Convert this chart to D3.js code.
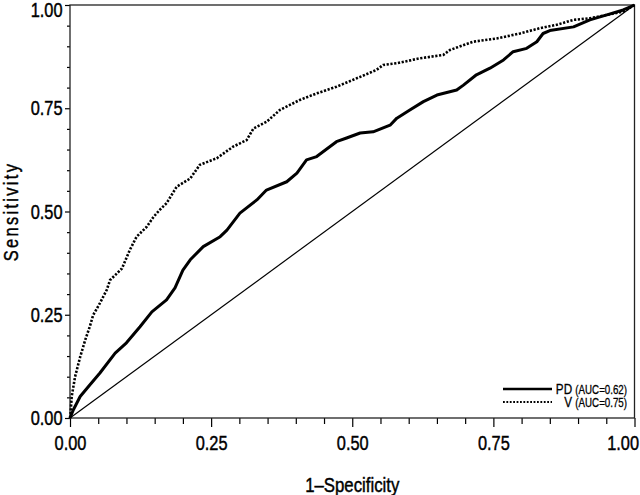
<!DOCTYPE html>
<html>
<head>
<meta charset="utf-8">
<script src="https://cdn.jsdelivr.net/npm/d3@7"></script>
<style>
  body { margin: 0; background: #fff; }
  svg { display: block; }
  text { font-family: "Liberation Sans", Arial, sans-serif; fill: #000; stroke: #000; stroke-width: 0.45px; }
</style>
</head>
<body>
<div id="chart"></div>
<script>
// ROC curve values
const pdFpr = [0, 0.006, 0.018, 0.035, 0.053, 0.080, 0.100, 0.124, 0.145, 0.171, 0.186, 0.200, 0.213, 0.236, 0.266, 0.278, 0.301, 0.331, 0.348, 0.384, 0.402, 0.419, 0.437, 0.472, 0.490, 0.514, 0.537, 0.567, 0.579, 0.602, 0.626, 0.650, 0.685, 0.697, 0.720, 0.744, 0.768, 0.785, 0.809, 0.827, 0.838, 0.850, 0.892, 0.921, 0.951, 0.980, 1];
const pdTpr = [0, 0.020, 0.052, 0.080, 0.109, 0.157, 0.182, 0.221, 0.257, 0.286, 0.315, 0.358, 0.383, 0.415, 0.439, 0.455, 0.496, 0.528, 0.552, 0.572, 0.593, 0.625, 0.633, 0.669, 0.678, 0.690, 0.693, 0.709, 0.726, 0.746, 0.766, 0.782, 0.794, 0.806, 0.831, 0.847, 0.867, 0.887, 0.895, 0.911, 0.931, 0.938, 0.947, 0.964, 0.976, 0.988, 1];

const vFpr = [0, 0.001, 0.003, 0.009, 0.018, 0.027, 0.035, 0.041, 0.053, 0.065, 0.071, 0.092, 0.106, 0.118, 0.136, 0.148, 0.159, 0.171, 0.189, 0.213, 0.230, 0.260, 0.289, 0.313, 0.325, 0.348, 0.372, 0.407, 0.437, 0.472, 0.514, 0.543, 0.555, 0.579, 0.620, 0.661, 0.673, 0.714, 0.756, 0.797, 0.833, 0.862, 0.892, 0.921, 0.951, 0.980, 1];
const vTpr = [0, 0.011, 0.052, 0.100, 0.148, 0.189, 0.221, 0.249, 0.278, 0.310, 0.334, 0.362, 0.407, 0.439, 0.463, 0.487, 0.504, 0.520, 0.560, 0.580, 0.613, 0.629, 0.657, 0.673, 0.701, 0.717, 0.746, 0.770, 0.786, 0.802, 0.826, 0.843, 0.855, 0.859, 0.871, 0.879, 0.891, 0.911, 0.919, 0.931, 0.944, 0.952, 0.964, 0.968, 0.976, 0.984, 1];

const refLine = [0, 1];
const majorTicks = [0, 0.25, 0.5, 0.75, 1];
const minorTicks = [0.05, 0.1, 0.15, 0.2, 0.3, 0.35, 0.4, 0.45, 0.55, 0.6, 0.65, 0.7, 0.8, 0.85, 0.9, 0.95];

const legendNames = ["PD", "V"];
const legendAuc = ["(AUC=0.62)", "(AUC=0.75)"];

const W = 640, H = 495;
const margin = { top: 5, right: 5.5, bottom: 77, left: 70 };
const width = W - margin.left - margin.right;
const height = H - margin.top - margin.bottom;
const SX = 0.78; // horizontal squeeze to mimic the narrow font

const svg = d3.select("#chart").append("svg")
    .attr("width", W)
    .attr("height", H);

const g = svg.append("g")
    .attr("transform", `translate(${margin.left},${margin.top})`);

const x = d3.scaleLinear().domain([0, 1]).range([0, width]);
const y = d3.scaleLinear().domain([0, 1]).range([height, 0]);

// Axes (major with labels, minor without)
const fmt = d3.format(".2f");
const xAxis = g.append("g")
    .attr("transform", `translate(0,${height})`)
    .call(d3.axisBottom(x).tickValues(majorTicks).tickFormat(fmt).tickSize(9).tickPadding(8));
g.append("g")
    .attr("transform", `translate(0,${height})`)
    .call(d3.axisBottom(x).tickValues(minorTicks).tickFormat("").tickSize(6));

const yAxis = g.append("g")
    .call(d3.axisLeft(y).tickValues(majorTicks).tickFormat(fmt).tickSize(5).tickPadding(4));
g.append("g")
    .call(d3.axisLeft(y).tickValues(minorTicks).tickFormat("").tickSize(3));

g.selectAll(".domain").remove();
g.selectAll(".tick line").attr("stroke", "#000").attr("stroke-width", 1.2);

xAxis.selectAll("text")
    .style("font-size", "21px")
    .attr("dy", "0.72em")
    .attr("transform", `scale(${SX},1)`);
// keep the last label inside the window
xAxis.selectAll("text").filter(d => d === 1)
    .attr("text-anchor", "end")
    .attr("x", 4 / SX);

yAxis.selectAll("text")
    .style("font-size", "21px")
    .attr("x", -7.5 / SX)
    .attr("transform", `scale(${SX},1)`);
yAxis.selectAll("text").filter(d => d === 1)
    .attr("dy", "0.55em");

// Frame
g.append("rect")
    .attr("x", 0).attr("y", 0)
    .attr("width", width).attr("height", height)
    .attr("fill", "none")
    .attr("stroke", "#222")
    .attr("stroke-width", 1.3);

// Reference diagonal
g.append("line")
    .attr("x1", x(refLine[0])).attr("y1", y(refLine[0]))
    .attr("x2", x(refLine[1])).attr("y2", y(refLine[1]))
    .attr("stroke", "#000")
    .attr("stroke-width", 1.2);

// Curves
const line = d3.line()
    .x(d => x(d[0]))
    .y(d => y(d[1]));

g.append("path")
    .datum(d3.zip(vFpr, vTpr))
    .attr("fill", "none")
    .attr("stroke", "#000")
    .attr("stroke-width", 2.6)
    .attr("stroke-dasharray", "2.2,1.6")
    .attr("d", line);

g.append("path")
    .datum(d3.zip(pdFpr, pdTpr))
    .attr("fill", "none")
    .attr("stroke", "#000")
    .attr("stroke-width", 3)
    .attr("stroke-linejoin", "round")
    .attr("d", line);

// Axis titles
svg.append("text")
    .attr("transform", `translate(${margin.left + width / 2},492) scale(${SX + 0.02},1)`)
    .attr("text-anchor", "middle")
    .style("font-size", "21px")
    .text("1\u2013Specificity");

svg.append("text")
    .attr("transform", `translate(18,${margin.top + height / 2}) rotate(-90) scale(${SX},1)`)
    .attr("text-anchor", "middle")
    .style("font-size", "21px")
    .style("letter-spacing", "3px")
    .text("Sensitivity");

// Legend
const legend = svg.append("g")
    .attr("transform", "translate(503,389)");

legendNames.forEach((name, i) => {
    const row = legend.append("g").attr("transform", `translate(0,${i * 13})`);
    row.append("line")
        .attr("x1", 0).attr("x2", 49)
        .attr("y1", 0).attr("y2", 0)
        .attr("stroke", "#000")
        .attr("stroke-width", i === 0 ? 2.6 : 2)
        .attr("stroke-dasharray", i === 0 ? null : "1.8,1.6");
    const t = row.append("text")
        .attr("transform", `translate(124,5) scale(${SX},1)`)
        .attr("text-anchor", "end")
        .style("stroke-width", "0.3px");
    t.append("tspan").style("font-size", "15px").text(name + " ");
    t.append("tspan").style("font-size", "12.5px").text(legendAuc[i]);
});
</script>
</body>
</html>
